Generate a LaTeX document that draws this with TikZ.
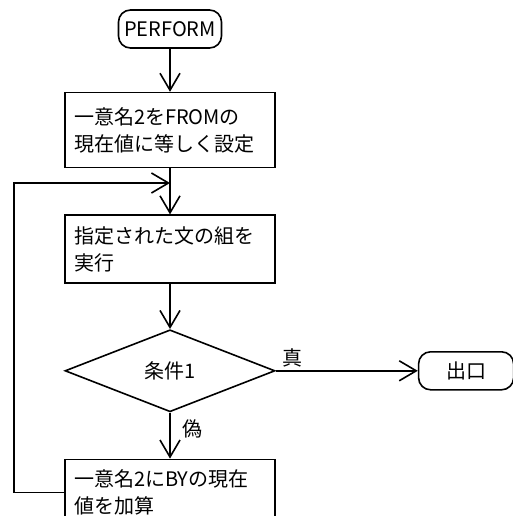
\documentclass[tikz,border=0pt]{standalone}
\usepackage{fontspec}
\setmainfont{Noto Sans CJK JP}
\usetikzlibrary{arrows.meta,positioning,shapes.geometric}
\definecolor{lineblack}{RGB}{0,0,0}

\begin{document}
\begin{tikzpicture}[
  x=1pt, y=-1pt,
  font=\fontsize{20}{27}\selectfont,
  term/.style={rectangle, rounded corners=12pt, draw=lineblack, minimum height=38pt, inner sep=0pt, line width=1.6pt},
  box/.style={rectangle, draw=lineblack, text width=192pt, inner xsep=9pt, align=left, minimum height=70pt, line width=1.6pt},
  dec/.style={diamond, draw=lineblack, minimum width=210pt, minimum height=82pt, inner sep=0pt, line width=1.6pt},
  arr/.style={-{Straight Barb[length=17pt, width=20pt]}, line width=1.6pt}
]
\useasboundingbox (0,0) rectangle (512,516);

\node[term, minimum width=103pt] (perf) at (170,29) {PERFORM};
\node[box, minimum height=75pt, below=43pt of perf] (b1) {一意名2をFROMの\\現在値に等しく設定};
\node[box, minimum height=68pt, below=46pt of b1] (b2) {指定された文の組を\\実行};
\node[dec, below=45pt of b2] (dia) {条件1};
\node[box, minimum height=66pt, below=46pt of dia] (b3) {一意名2にBYの現在\\値を加算};
\node[term, minimum width=95pt, right=142pt of dia] (exit) {出口};
\coordinate (join) at (170,183);

\draw[arr] (perf) -- (b1);
\draw[arr] (b1) -- (b2);
\draw[arr] (b2) -- (dia);
\draw[arr] (dia) -- node[right, pos=0.35, xshift=8pt]{偽} (b3);
\draw[arr] (dia) -- node[above, pos=0.12]{真} (exit);
\draw[arr] (b3.west) -- ++(-50,0) |- (join);
\end{tikzpicture}
\end{document}
